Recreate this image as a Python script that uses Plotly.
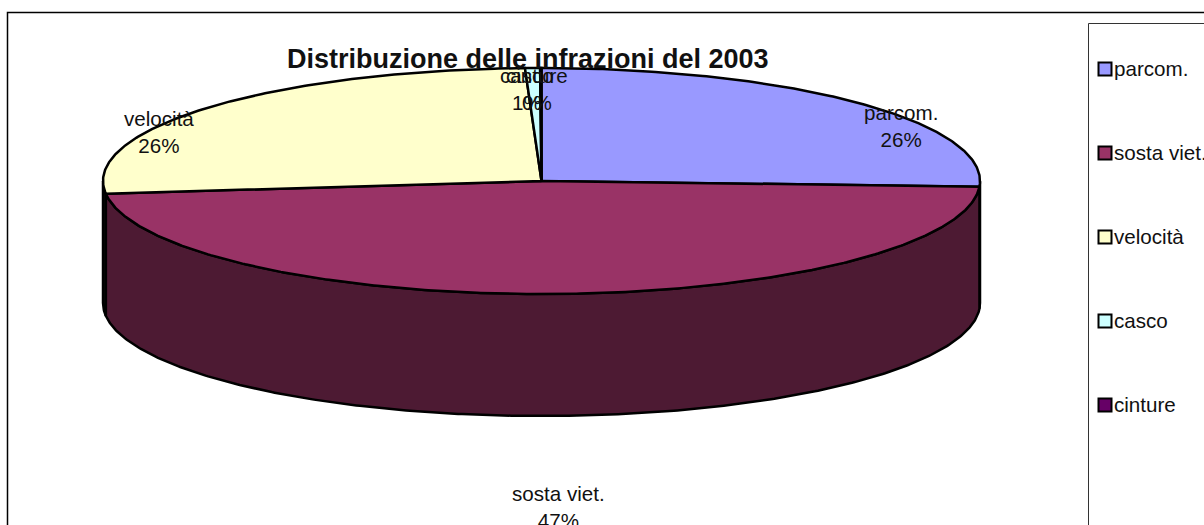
import numpy as np
import plotly.graph_objects as go

categories = ["parcom.", "sosta viet.", "velocità", "casco", "cinture"]
shares = [25.8, 47.4, 26.2, 0.55, 0.05]
percent_labels = ["26%", "47%", "26%", "1%", "0%"]
top_colors = ["#9999FF", "#993366", "#FFFFCC", "#CCFFFF", "#660066"]
wall_colors = ["#4D4D80", "#4D1A33", "#111111", "#668080", "#330033"]
label_pos = [(901, 126), (558, 507), (159, 132), (527, 89), (537, 89)]
legend_y = [69, 153, 237, 321, 405]

CX, CY, RX, RY, DEPTH = 541.5, 181, 438.5, 113, 122
FONT = "Liberation Sans, Arial, sans-serif"
W, H = 1204, 525

def arc(a0, a1, dy=0.0):
    t = np.radians(np.linspace(a0, a1, max(int(abs(a1 - a0)) * 2 + 2, 3)))
    return CX + RX * np.sin(t), CY - RY * np.cos(t) + dy

fig = go.Figure()
edges = np.cumsum([0] + shares) / sum(shares) * 360

# side walls (only the front half of the pie is visible)
for i in range(len(categories)):
    a0, a1 = max(edges[i], 90), min(edges[i + 1], 270)
    if a1 <= a0:
        continue
    xt, yt = arc(a0, a1)
    xb, yb = arc(a1, a0, DEPTH)
    fig.add_trace(go.Scatter(
        x=np.r_[xt, xb, xt[0]], y=np.r_[yt, yb, yt[0]], mode="lines", fill="toself",
        fillcolor=wall_colors[i], line=dict(color="black", width=2.5),
        hoverinfo="skip", showlegend=False))

# top surface
for i in range(len(categories)):
    xa, ya = arc(edges[i], edges[i + 1])
    fig.add_trace(go.Scatter(
        x=np.r_[CX, xa, CX], y=np.r_[CY, ya, CY], mode="lines", fill="toself",
        fillcolor=top_colors[i], line=dict(color="black", width=2.5),
        name=categories[i], showlegend=False))

# legend swatches
fig.add_trace(go.Scatter(
    x=[1105] * len(categories), y=legend_y, mode="markers",
    marker=dict(symbol="square", size=13, color=top_colors, line=dict(color="black", width=2)),
    hoverinfo="skip", showlegend=False))

annotations = []
for c, p, (x, y) in zip(categories, percent_labels, label_pos):
    annotations.append(dict(x=x, y=y, text=f"{c}<br>{p}", showarrow=False, xanchor="center",
                            yanchor="middle", font=dict(family=FONT, size=20.6, color="#111111")))
for c, y in zip(categories, legend_y):
    annotations.append(dict(x=1114, y=y - 1, text=c, showarrow=False, xanchor="left", yanchor="middle",
                            xshift=-2, font=dict(family=FONT, size=20.6, color="#111111")))
annotations.append(dict(x=528, y=59, text="<b>Distribuzione delle infrazioni del 2003</b>", showarrow=False,
                        xanchor="center", yanchor="middle", font=dict(family=FONT, size=27, color="#111111")))

shapes = [
    dict(type="rect", x0=7.5, y0=12.5, x1=1260, y1=600, line=dict(color="black", width=1.5), layer="below"),
    dict(type="rect", x0=1088.5, y0=23.5, x1=1260, y1=600, line=dict(color="#333333", width=1), layer="below"),
]

fig.update_layout(
    width=W, height=H, autosize=False, margin=dict(l=0, r=0, t=0, b=0),
    paper_bgcolor="white", plot_bgcolor="white", showlegend=False,
    xaxis=dict(range=[0, W], visible=False, fixedrange=True),
    yaxis=dict(range=[H, 0], visible=False, fixedrange=True),
    annotations=annotations, shapes=shapes,
)
fig.write_html("out.html", config=dict(displayModeBar=False),
               post_script="document.body.style.margin='0';document.body.style.overflow='hidden';")
